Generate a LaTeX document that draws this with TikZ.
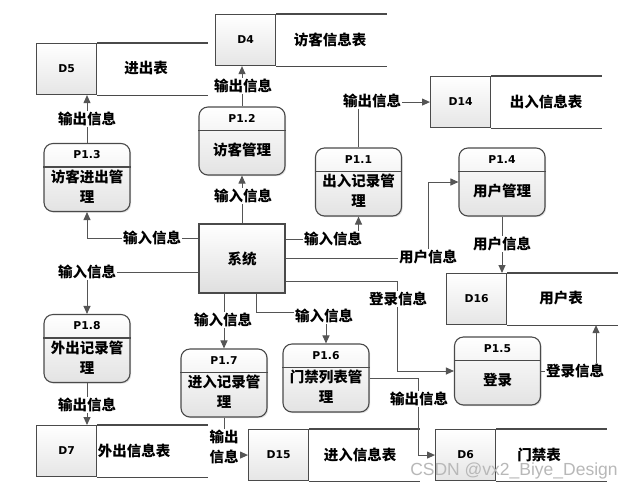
\documentclass[tikz,border=0pt]{standalone}
\usepackage{fontspec}
\setmainfont{DejaVu Sans}
\newfontfamily\cjk{Noto Sans CJK SC}
\newfontfamily\wmfont{Liberation Sans}
\usetikzlibrary{arrows.meta,shadows}
\definecolor{linec}{HTML}{555555}
\definecolor{boxc}{HTML}{4A4A4A}
\definecolor{wmc}{HTML}{B8B8B8}
\newcommand{\procbox}[5]{%
  \node[procnode] (#1) at (#2,#3) {};
  \draw[boxline] ([yshift=-24pt]#1.north west) -- ([yshift=-24pt]#1.north east);
  \node[idtext] (#1-id) at ([yshift=-12pt]#1.north) {#4};
  \node[bodytext] (#1-tx) at ([yshift=-9pt]#1.center) {#5};
}
\newcommand{\dstore}[6]{%
  \node[storeid, anchor=north west] (#1) at (#2,#3) {#4};
  \draw[boxline] (#1.north east) -- ++(111,0) (#1.south east) -- ++(111,0);
  \node[bodytext] (#1-n) at ({#6},{#3+25.5}) {#5};
}
\begin{document}
\begin{tikzpicture}[x=1pt,y=-1pt,
  boxline/.style={draw=boxc, line width=1.1pt},
  flow/.style={draw=linec, line width=1pt, -{Triangle[length=8pt,width=7pt]}},
  procnode/.style={draw=boxc, line width=1.1pt, rounded corners=9pt,
    minimum width=86pt, minimum height=68pt, inner sep=0pt,
    top color=white, bottom color=gray!22,
    drop shadow={shadow xshift=1.2pt, shadow yshift=-1.2pt, opacity=0.25}},
  sysnode/.style={draw=boxc, line width=1.1pt,
    minimum width=86pt, minimum height=69pt, inner sep=0pt,
    top color=white, bottom color=gray!25,
    drop shadow={shadow xshift=1.2pt, shadow yshift=-1.2pt, opacity=0.25},
    font=\cjk\bfseries\fontsize{14.5}{17}\selectfont},
  storeid/.style={draw=boxc, line width=1.1pt,
    minimum width=60pt, minimum height=51pt, inner sep=0pt,
    top color=white, bottom color=gray!20,
    font=\bfseries\fontsize{10.8}{13}\selectfont},
  idtext/.style={inner sep=0pt, font=\bfseries\fontsize{10.8}{13}\selectfont},
  bodytext/.style={inner sep=0pt, align=center,
    font=\cjk\bfseries\fontsize{14.5}{20}\selectfont},
  lab/.style={fill=white, inner sep=1pt, align=center,
    font=\cjk\bfseries\fontsize{14.5}{20}\selectfont}
]
\useasboundingbox (0,0) rectangle (637,491);
\fill[white] (0,0) rectangle (637,491);

% data stores
\dstore{d5}{36}{43}{D5}{进出表}{146}
\dstore{d4}{215}{14}{D4}{访客信息表}{330}
\dstore{d14}{430}{76}{D14}{出入信息表}{546}
\dstore{d16}{446}{273}{D16}{用户表}{561}
\dstore{d6}{435}{429}{D6}{门禁表}{539}
\dstore{d15}{248}{429}{D15}{进入信息表}{360}
\dstore{d7}{36}{425}{D7}{外出信息表}{134}

% system
\node[sysnode] (sys) at (242,258.5) {系统};

% processes
\procbox{p13}{87}{177.5}{P1.3}{访客进出管\\理}
\procbox{p12}{242}{141}{P1.2}{访客管理}
\procbox{p11}{358.5}{182}{P1.1}{出入记录管\\理}
\procbox{p14}{502}{182}{P1.4}{用户管理}
\procbox{p18}{87}{348.5}{P1.8}{外出记录管\\理}
\procbox{p17}{224}{383}{P1.7}{进入记录管\\理}
\procbox{p16}{326}{378}{P1.6}{门禁列表管\\理}
\procbox{p15}{497.5}{371}{P1.5}{登录}

% helper coordinates
\coordinate (uj) at (428,0);
\coordinate (lj) at (397,0);
\coordinate (rj) at (596,0);
\coordinate (mj) at (0,312);
\coordinate (oj) at (418,0);

% connectors
\draw[flow] ([yshift=20.5pt]sys.west) -| (p13.south);
\draw[flow] (p13.north) -- (p13.north |- d5.south);
\draw[flow] (sys.north) -- (p12.south);
\draw[flow] (p12.north) -- (p12.north |- d4.south);
\draw[flow] ([yshift=19.5pt]sys.east) -| (p11.south);
\draw[flow] (p11.north) |- (d14.west);
\draw[flow] (sys.east) -| (uj |- p14.west) -- (p14.west);
\draw[flow] (p14.south) -- (p14.south |- d16.north);
\draw[flow] ([yshift=-22.5pt]sys.east) -| (lj |- p15.west) -- (p15.west);
\draw[flow] (p15.east) -| (rj |- d16.south);
\draw[flow] ([yshift=-13.5pt]sys.west) -| (p18.north);
\draw[flow] (p18.south) -- (p18.south |- d7.north);
\draw[flow] (p17.north |- sys.south) -- (p17.north);
\draw[flow] ([xshift=14pt]sys.south) |- (p16.north |- mj) -- (p16.north);
\draw[flow] (p17.south) |- (d15.west);
\draw[flow] (p16.east) -| (oj |- d6.west) -- (d6.west);

% labels
\node[lab] (l1) at (152,238) {输入信息};
\node[lab] (l2) at (87,119) {输出信息};
\node[lab] (l3) at (243,196) {输入信息};
\node[lab] (l4) at (243,86) {输出信息};
\node[lab] (l5) at (333,239) {输入信息};
\node[lab] (l6) at (372,101) {输出信息};
\node[lab] (l7) at (428,257) {用户信息};
\node[lab] (l8) at (502,244) {用户信息};
\node[lab] (l9) at (398,299) {登录信息};
\node[lab] (l10) at (575,371) {登录信息};
\node[lab] (l11) at (87,272) {输入信息};
\node[lab] (l12) at (87,405) {输出信息};
\node[lab] (l13) at (223,320) {输入信息};
\node[lab] (l14) at (324,316) {输入信息};
\node[lab] (l15) at (224,447) {输出\\信息};
\node[lab] (l16) at (419,399) {输出信息};

% watermark
\node[inner sep=0pt, text=wmc, font=\wmfont\fontsize{17.5}{20}\selectfont] (wm) at (514,471) {CSDN @vx2\_Biye\_Design};
\end{tikzpicture}
\end{document}
